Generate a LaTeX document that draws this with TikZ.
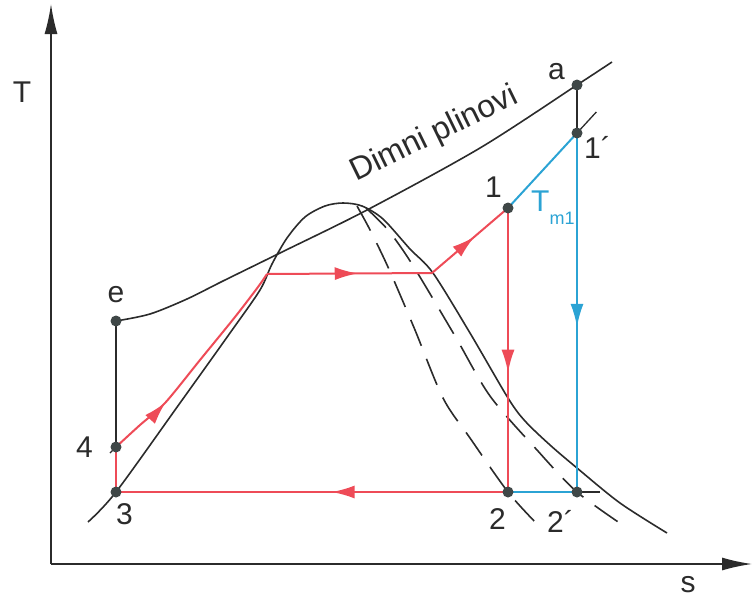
\documentclass[tikz,border=0pt]{standalone}
\usepackage{fontspec}
\setmainfont{Liberation Sans}
\usepackage{xcolor}
\usetikzlibrary{arrows.meta,positioning,calc,decorations.markings}
\definecolor{CycleRed}{HTML}{EE4B57}
\definecolor{CycleBlue}{HTML}{2BA3D4}
\definecolor{LineGrey}{HTML}{2B2B2B}
\definecolor{DotGrey}{HTML}{3F4747}

\begin{document}
\begin{tikzpicture}[
  x=1pt, y=-1pt,
  axis/.style={draw=LineGrey, line width=1.6pt, -{Latex[length=30pt,width=13pt]}},
  curve/.style={draw=LineGrey, line width=1.6pt},
  dashcurve/.style={curve, dash pattern=on 28pt off 14pt},
  thinline/.style={draw=LineGrey, line width=1.3pt},
  redline/.style={color=CycleRed, line width=2pt},
  blueline/.style={color=CycleBlue, line width=2pt},
  midarrow/.style={postaction={decorate}, decoration={markings, mark=at position #1 with {\arrow{Latex[length=23pt,width=13pt]}}}},
  dot/.style={circle, fill=DotGrey, inner sep=0pt, minimum size=11pt},
  lbl/.style={inner sep=0pt, font=\fontsize{30}{34}\selectfont, text=LineGrey}
]
  \useasboundingbox (0,0) rectangle (753,598);

  % axes
  \coordinate (o) at (51,564);
  \coordinate (ytop) at (51,4);
  \coordinate (xend) at (752,564);
  \draw[axis] (o) -- (ytop);
  \draw[axis] (o) -- (xend);
  \node[lbl] (lt) at (22,92) {T};
  \node[lbl] (ls) at (688,585) {s};

  % state points
  \coordinate (p3) at (116,492);
  \coordinate (p4) at (116,447);
  \coordinate (pe) at (116,321);
  \coordinate (pa) at (577,85);
  \coordinate (p1s) at (577,133);
  \coordinate (p1) at (508,208);
  \coordinate (p2) at (508,492);
  \coordinate (p2s) at (577,492);
  \coordinate (k1) at (267,274);
  \coordinate (k2) at (432,273);
  \coordinate (q) at (600,492);

  % saturation curves
  \draw[curve] plot[smooth] coordinates {(88,522) (p3) (180,403) (230,333) (260,290) (272,264) (287,238) (305,217) (325,206) (343,203) (362,206) (383,219) (410,249) (433,273) (470,333) (508,398) (525,421) (550,445) (577,468) (620,503) (667,533)};
  \draw[dashcurve] plot[smooth] coordinates {(357,206) (368,226) (380,250) (392,276) (415,330) (443,398) (470,438) (p2) (538,525)};
  \draw[dashcurve] plot[smooth] coordinates {(366,208) (388,230) (412,264) (455,336) (490,396) (537,450) (p2s) (627,528)};

  % flue gas line
  \draw[curve] plot[smooth] coordinates {(pe) (150,314) (187,299) (223,281) (280,253) (367,210) (480,148) (pa) (612,62)};
  \node[lbl, font=\fontsize{32}{36}\selectfont, rotate=26, anchor=base] (dp) at (438,142) {Dimni plinovi};

  % black helper lines
  \draw[thinline] (pe) -- (p4);
  \draw[thinline] (110,453) -- (p4);
  \draw[thinline] (pa) -- (p1s);
  \draw[thinline] (p1s) -- ($(p1)!1.28!(p1s)$);
  \draw[thinline] (p2s) -- (q);

  % Rankine cycle
  \draw[redline] (p3) -- (p4);
  \draw[redline, midarrow=0.29] plot[smooth] coordinates {(p4) (140,425) (165,403) (200,360) (235,317) (258,287) (k1)};
  \draw[redline, midarrow=0.55] (k1) -- (k2);
  \draw[redline, midarrow=0.56] (k2) -- (p1);
  \draw[redline, midarrow=0.58] (p1) -- (p2);
  \draw[redline, midarrow=0.45] (p2) -- (p3);

  \draw[blueline] (p1) -- (p1s);
  \draw[blueline, midarrow=0.54] (p1s) -- (p2s);
  \draw[blueline] (p2) -- (p2s);

  \foreach \p in {pe,p4,p3,p2,p2s,p1,p1s,pa}
    \node[dot] (d-\p) at (\p) {};

  % labels
  \node[lbl, above left=5pt and 12pt of pa] (la) {a};
  \node[lbl, below right=3pt and 7pt of p1s] (l1s) {1´};
  \node[lbl, above left=10pt and 6pt of p1] (l1) {1};
  \node[lbl, right=23pt of p1, text=CycleBlue] (ltm) {T\raisebox{-13pt}{\fontsize{18}{20}\selectfont m1}};
  \node[lbl, above=18pt of pe] (le) {e};
  \node[lbl, left=23pt of p4] (l4) {4};
  \node[lbl, below right=11pt and 0pt of p3] (l3) {3};
  \node[lbl, below left=16pt and 2pt of p2] (l2) {2};
  \node[lbl, below left=18pt and 3pt of p2s] (l2s) {2´};
\end{tikzpicture}
\end{document}
